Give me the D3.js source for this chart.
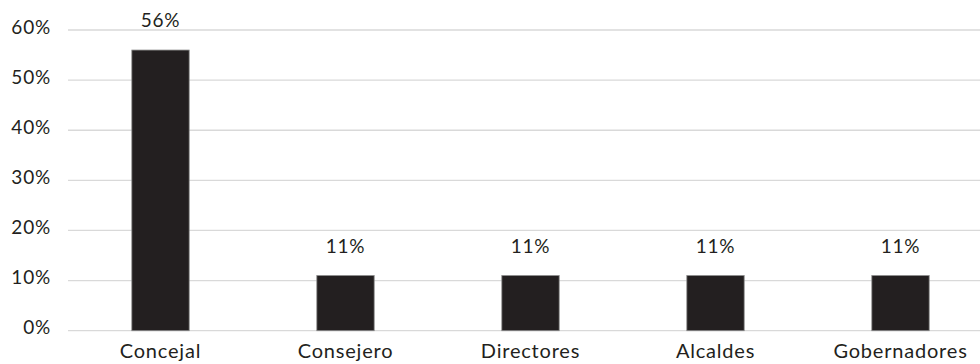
<!DOCTYPE html>
<html>
<head>
<meta charset="utf-8">
<script src="https://cdn.jsdelivr.net/npm/d3@7"></script>
<style>
  body { margin: 0; background: #fff; }
  text { font-family: Lato, "Open Sans", sans-serif; fill: #231f20; font-weight: 400; }
</style>
</head>
<body>
<svg></svg>
<script>
const width = 980;
const height = 364;

const categories = ['Concejal', 'Consejero', 'Directores', 'Alcaldes', 'Gobernadores'];
const values = [56, 11, 11, 11, 11];
const yTicks = [0, 10, 20, 30, 40, 50, 60];

const svg = d3.select('svg')
  .attr('width', width)
  .attr('height', height);

const x = d3.scaleBand()
  .domain(categories)
  .range([68, 993])
  .paddingInner(0.69)
  .paddingOuter(0.345);

const y = d3.scaleLinear()
  .domain([0, 60])
  .range([330.7, 30]);

// gridlines
svg.append('g')
  .selectAll('line')
  .data(yTicks)
  .enter()
  .append('line')
  .attr('x1', 68)
  .attr('x2', width)
  .attr('y1', d => y(d))
  .attr('y2', d => y(d))
  .attr('stroke', '#d9d9d9')
  .attr('stroke-width', 1.3);

// y labels
svg.append('g')
  .selectAll('text')
  .data(yTicks)
  .enter()
  .append('text')
  .attr('x', 51)
  .attr('y', d => y(d) + 3.5)
  .attr('text-anchor', 'end')
  .style('font-size', '19px')
  .style('letter-spacing', '0.8px')
  .text(d => d + '%');

const data = categories.map((c, i) => ({ cat: c, v: values[i] }));

svg.append('g')
  .selectAll('rect')
  .data(data)
  .enter()
  .append('rect')
  .attr('x', d => x(d.cat))
  .attr('y', d => y(d.v))
  .attr('width', x.bandwidth())
  .attr('height', d => y(0) - y(d.v))
  .attr('fill', '#231f20')
  .attr('stroke', '#8a8a8a')
  .attr('stroke-width', 0.8);

// value labels
svg.append('g')
  .selectAll('text')
  .data(data)
  .enter()
  .append('text')
  .attr('x', d => x(d.cat) + x.bandwidth() / 2)
  .attr('y', d => y(d.v) - 23)
  .attr('text-anchor', 'middle')
  .style('font-size', '19px')
  .style('letter-spacing', '0.8px')
  .text(d => d.v + '%');

// category labels
svg.append('g')
  .selectAll('text')
  .data(categories)
  .enter()
  .append('text')
  .attr('x', d => x(d) + x.bandwidth() / 2)
  .attr('y', 358)
  .attr('text-anchor', 'middle')
  .style('font-size', '20px')
  .style('letter-spacing', '0.8px')
  .text(d => d);
</script>
</body>
</html>
